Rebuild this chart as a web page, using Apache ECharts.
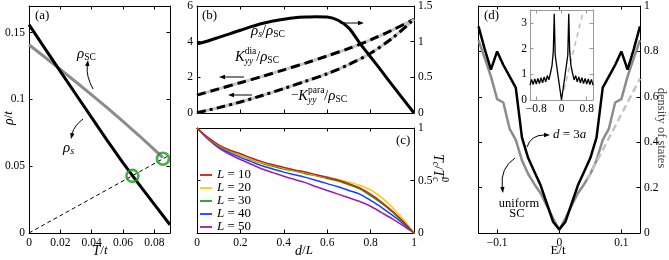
<!DOCTYPE html>
<html>
<head>
<meta charset="utf-8">
<script src="https://cdn.jsdelivr.net/npm/echarts@6.0.0/dist/echarts.min.js"></script>
<style>
html,body{margin:0;padding:0;background:#fff;}
#chart{width:669px;height:260px;}
</style>
</head>
<body>
<div id="chart"></div>
<script>
// ---------------- Panel (a) ----------------
const aTemp   = [0, 0.01, 0.02, 0.03, 0.04, 0.05, 0.06, 0.07, 0.08, 0.09];
const aRhoS   = [0.156, 0.1385, 0.121, 0.1037, 0.0864, 0.0692, 0.0525, 0.0368, 0.0215, 0.0062];
const aTempSC = [0, 0.01, 0.02, 0.03, 0.04, 0.05, 0.06, 0.07, 0.08, 0.0855];
const aRhoSC  = [0.141, 0.1318, 0.1225, 0.1131, 0.1035, 0.0937, 0.0836, 0.0732, 0.0624, 0.0564];
const aLineT   = [0, 0.088];
const aLineRho = [0, 0.0572];
const aCircT   = [0.066, 0.0855];
const aCircRho = [0.0428, 0.0556];
const aXTicks = [0, 0.09, 0.02];
const aYTicks = [0, 0.17, 0.05];

// ---------------- Panel (b) ----------------
const bX20 = [0,0.05,0.1,0.15,0.2,0.25,0.3,0.35,0.4,0.45,0.5,0.55,0.6,0.65,0.7,0.75,0.8,0.85,0.9,0.95,1];
const bRhoRatio = [0.97,1.01,1.06,1.11,1.16,1.21,1.255,1.29,1.315,1.335,1.345,1.35,1.345,1.30,1.19,0.98,0.785,0.59,0.39,0.195,0];
const bX10 = [0,0.1,0.2,0.3,0.4,0.5,0.6,0.7,0.8,0.9,1];
const bKdia  = [1.0,1.35,1.7,2.05,2.42,2.8,3.2,3.62,4.1,4.65,5.25];
const bKpara = [0.02,0.3,0.62,0.98,1.37,1.78,2.2,2.72,3.35,4.2,5.25];

// ---------------- Panel (c) ----------------
const cX = [0,0.05,0.1,0.15,0.2,0.25,0.3,0.35,0.4,0.45,0.5,0.55,0.6,0.65,0.7,0.75,0.8,0.85,0.9,0.95,1];
const cL10 = [1,0.91,0.84,0.79,0.755,0.715,0.68,0.65,0.625,0.60,0.58,0.555,0.53,0.505,0.47,0.43,0.37,0.295,0.21,0.11,0];
const cL20 = [1,0.91,0.835,0.785,0.745,0.705,0.67,0.645,0.62,0.595,0.575,0.55,0.53,0.51,0.485,0.455,0.41,0.34,0.245,0.13,0];
const cL30 = [1,0.905,0.83,0.78,0.74,0.70,0.665,0.635,0.61,0.59,0.565,0.545,0.52,0.495,0.46,0.42,0.355,0.285,0.20,0.105,0];
const cL40 = [1,0.90,0.82,0.765,0.72,0.68,0.64,0.61,0.58,0.555,0.53,0.50,0.47,0.44,0.405,0.37,0.31,0.245,0.17,0.09,0];
const cL50 = [1,0.895,0.81,0.75,0.70,0.655,0.61,0.575,0.54,0.51,0.48,0.44,0.405,0.37,0.335,0.30,0.255,0.195,0.135,0.07,0];
const cNames = ['10','20','30','40','50'];
const cColors = ['#c8201e','#ffc800','#1e9e1e','#1e3cff','#9a1fa6'];

// ---------------- Panel (d) ----------------
const dE = [-0.13,-0.12,-0.11,-0.1,-0.09,-0.08,-0.07,-0.06,-0.05,-0.04,-0.03,-0.02,-0.01,0,0.01,0.02,0.03,0.04,0.05,0.06,0.07,0.08,0.09,0.1,0.11,0.12,0.13];
const dBlack = [0.91,0.81,0.72,0.80,0.74,0.69,0.64,0.42,0.33,0.27,0.21,0.13,0.05,0.015,0.05,0.13,0.21,0.27,0.33,0.42,0.64,0.69,0.74,0.80,0.72,0.81,0.91];
const dGray  = [0.85,0.77,0.69,0.59,0.575,0.46,0.41,0.32,0.26,0.215,0.175,0.12,0.065,0.015,0.065,0.12,0.175,0.215,0.26,0.32,0.41,0.46,0.575,0.59,0.69,0.77,0.85];
const dFitE = [0.045, 0.13];
const dFitV = [0.235, 0.68];
const insE = [-1,-0.95,-0.9,-0.85,-0.8,-0.75,-0.7,-0.65,-0.6,-0.55,-0.5,-0.45,-0.4,-0.35,-0.3,-0.26,-0.23,-0.2,-0.15,-0.1,-0.05,0,0.05,0.1,0.15,0.2,0.23,0.26,0.3,0.35,0.4,0.45,0.5,0.55,0.6,0.65,0.7,0.75,0.8,0.85,0.9,0.95,1];
const insV = [0.58,0.8,0.6,0.82,0.62,0.84,0.64,0.87,0.67,0.9,0.71,0.95,0.78,1.05,1.35,1.9,3.35,1.75,1.3,0.85,0.42,0.0,0.42,0.85,1.3,1.75,3.35,1.9,1.35,1.05,0.78,0.95,0.71,0.9,0.67,0.87,0.64,0.84,0.62,0.82,0.6,0.8,0.58];
const insFitE = [0.08, 0.7];
const insFitV = [0.4, 3.5];

// ---------------- helpers ----------------
const SERIF = '"Liberation Serif","Times New Roman",serif';
const zip = (xs, ys) => xs.map((x, i) => [x, ys[i]]);
const mctx = document.createElement('canvas').getContext('2d');
function fnt(sz, it) { return (it ? 'italic ' : '') + sz + 'px ' + SERIF; }
function math(x, y, parts, o) {
  o = o || {};
  let cx = 0, pend = null, pendW = 0;
  const ch = [];
  for (const p of parts) {
    const [t, sz, it, dy, stack] = p;
    mctx.font = fnt(sz, it);
    const tw = mctx.measureText(t).width;
    const sx = pend !== null ? pend : cx;
    ch.push({type: 'text', x: sx, y: dy || 0, silent: true,
      style: {text: t, font: fnt(sz, it), fill: o.color || '#000',
        align: 'left', verticalAlign: 'middle', textAlign: 'left', textVerticalAlign: 'middle'}});
    if (stack) { pend = sx; pendW = tw; }
    else { cx = sx + Math.max(tw, pend !== null ? pendW : 0); pend = null; }
  }
  const w = cx;
  const off = o.align === 'left' ? 0 : (o.align === 'right' ? -w : -w / 2);
  ch.forEach(c => c.x += off);
  return {type: 'group', x: x, y: y, rotation: o.rot || 0, children: ch, z: 100};
}
function arrow(x1, y1, cx, cy, x2, y2, hl, hw) {
  hl = hl || 6; hw = hw || 2.2;
  const dx = x2 - cx, dy = y2 - cy, L = Math.hypot(dx, dy), ux = dx / L, uy = dy / L;
  const bx = x2 - ux * hl, by = y2 - uy * hl;
  return [
    {type: 'bezierCurve', z: 100, shape: {x1: x1, y1: y1, x2: bx, y2: by, cpx1: cx, cpy1: cy},
      style: {stroke: '#000', lineWidth: 1, fill: null}},
    {type: 'polygon', z: 100, shape: {points: [[x2, y2], [bx - uy * hw, by + ux * hw], [bx + uy * hw, by - ux * hw]]},
      style: {fill: '#000'}}
  ];
}
const fmt = v => (Math.round(v * 1e6) / 1e6).toString().replace('-', '\u2212');
function axis(gridIndex, pos, min, max, interval, labels, ex) {
  ex = ex || {};
  const col = ex.color || '#000';
  const a = {
    type: 'value', gridIndex: gridIndex, position: pos, min: min, max: max,
    axisLine: {show: true, onZero: false, lineStyle: {color: col, width: 1}},
    axisTick: {show: true, inside: true, length: 3.5, lineStyle: {color: col, width: 1}},
    splitLine: {show: false},
    axisLabel: {show: labels, margin: ex.margin != null ? ex.margin : 4, fontFamily: SERIF, fontSize: 11.5,
      color: '#000', formatter: fmt}
  };
  if (interval != null) a.interval = interval;
  if (ex.hideMax) a.axisLabel.showMaxLabel = false;
  if (ex.custom) { a.axisTick.customValues = ex.custom; a.axisLabel.customValues = ex.custom; }
  return a;
}
function line(xi, yi, data, color, width, type, smooth) {
  return {type: 'line', xAxisIndex: xi, yAxisIndex: yi, data: data, showSymbol: false, symbol: 'none',
    smooth: smooth || false, lineStyle: {color: color, width: width, type: type || 'solid', cap: 'butt'},
    animation: false, silent: true};
}

const grids = [
  {left: 29, top: 6, width: 141, height: 227},
  {left: 197, top: 5, width: 217, height: 108},
  {left: 197, top: 128, width: 217, height: 105},
  {left: 478.5, top: 6, width: 161.5, height: 227},
  {left: 530, top: 10, width: 63, height: 90, show: true, backgroundColor: '#fff', borderWidth: 0}
];

const xAxes = [
  axis(0, 'bottom', aXTicks[0], aXTicks[1], aXTicks[2], true, {hideMax: true}),
  axis(0, 'top', aXTicks[0], aXTicks[1], aXTicks[2], false),
  axis(1, 'bottom', 0, 1, 0.2, false),
  axis(1, 'top', 0, 1, 0.2, false),
  axis(2, 'bottom', 0, 1, 0.2, true),
  axis(2, 'top', 0, 1, 0.2, false),
  axis(3, 'bottom', -0.13, 0.13, null, true, {custom: [-0.1, 0, 0.1]}),
  axis(3, 'top', -0.13, 0.13, null, false, {custom: [-0.1, 0, 0.1]}),
  axis(4, 'bottom', -1, 1, null, true, {custom: [-0.8, 0, 0.8], color: '#999', margin: 3}),
  axis(4, 'top', -1, 1, null, false, {custom: [-0.8, 0, 0.8], color: '#999'})
];
const yAxes = [
  axis(0, 'left', aYTicks[0], aYTicks[1], aYTicks[2], true, {hideMax: true}),
  axis(0, 'right', aYTicks[0], aYTicks[1], aYTicks[2], false),
  axis(1, 'left', 0, 6, 2, true, {margin: 4}),
  axis(1, 'right', 0, 1.5, 0.5, true),
  axis(2, 'left', 0, 1, 0.5, false),
  axis(2, 'right', 0, 1, 0.5, true),
  axis(3, 'left', 0, 1, 0.2, false),
  axis(3, 'right', 0, 1, 0.2, true),
  axis(4, 'left', 0, 3.5, 1, true, {hideMax: true, color: '#999', margin: 3}),
  axis(4, 'right', 0, 3.5, 1, false, {color: '#999'})
];

const series = [];
// (a)
series.push(line(0, 0, zip(aTempSC, aRhoSC), '#8c8c8c', 3));
series.push(line(0, 0, zip(aTemp, aRhoS), '#000', 3));
series.push(line(0, 0, zip(aLineT, aLineRho), '#000', 1, [4, 3]));
series.push({type: 'scatter', xAxisIndex: 0, yAxisIndex: 0, data: zip(aCircT, aCircRho), symbol: 'circle',
  symbolSize: 12, animation: false, silent: true, z: 5,
  itemStyle: {color: 'rgba(0,0,0,0)', borderColor: '#1a9a1a', borderWidth: 2.6}});
// (b)
series.push(line(2, 2, zip(bX10, bKdia), '#c4c4c4', 3, 'solid', 0.3));
series.push(line(2, 2, zip(bX10, bKdia), '#000', 3, [9, 5], 0.3));
series.push(line(2, 2, zip(bX10, bKpara), '#c4c4c4', 3, 'solid', 0.3));
series.push(line(2, 2, zip(bX10, bKpara), '#000', 3, [9, 4, 3, 4], 0.3));
series.push(line(2, 3, zip(bX20, bRhoRatio), '#000', 3, 'solid', 0.3));
// (c)
const cSeriesData = [cL10, cL20, cL30, cL40, cL50];
for (let i = 4; i >= 0; i--) series.push(line(4, 5, zip(cX, cSeriesData[i]), cColors[i], 1.5, 'solid', 0.3));
// (d)
series.push(line(6, 7, zip(dE, dGray), '#8c8c8c', 2.5));
series.push(line(6, 7, zip(dFitE, dFitV), '#c4c4c4', 2.5, [7, 4]));
series.push(line(6, 7, zip(dE, dBlack), '#000', 2.5));
// inset
series.push(line(8, 8, zip(insFitE, insFitV), '#bbbbbb', 1.5, [5, 4]));
series.push(line(8, 8, zip(insE, insV), '#000', 1.3));

// ---------------- annotations ----------------
const G = [];
const I = true, R = false;
// (a)
G.push(math(35, 16, [['(a)', 13, R]], {align: 'left'}));
G.push(math(77, 54, [['ρ', 15, I], ['SC', 9.5, R, 3]], {align: 'left'}));
G.push(...arrow(93, 89, 86, 76, 88, 60));
G.push(math(63, 148, [['ρ', 15, I], ['s', 10, I, 3]], {align: 'left'}));
G.push(...arrow(83, 119, 74, 126, 71, 139));
G.push(math(9, 118, [['ρ', 14, I], ['/', 13, R], ['t', 13, I]], {rot: Math.PI / 2}));
G.push(math(100, 251, [['T', 14, I], ['/', 13, R], ['t', 13, I]]));
// (b)
G.push(math(202, 16, [['(b)', 13, R]], {align: 'left'}));
G.push(math(251, 31, [['ρ', 15, I], ['s', 10, I, 3], ['/', 14, R], ['ρ', 15, I], ['SC', 9.5, R, 3]], {align: 'left'}));
G.push(...arrow(340, 23, 352, 23, 364, 23));
G.push(math(235, 57, [['K', 14.5, I], ['dia', 9.5, R, -6, true], ['yy', 9.5, I, 4], ['/', 14, R], ['ρ', 15, I], ['SC', 9.5, R, 3]], {align: 'left'}));
G.push(...arrow(244, 77, 232, 77, 219, 77));
G.push(math(291, 96, [['−', 13, R], ['K', 14.5, I], ['para', 9.5, R, -6, true], ['yy', 9.5, I, 4], ['/', 14, R], ['ρ', 15, I], ['SC', 9.5, R, 3]], {align: 'left'}));
G.push(...arrow(252, 95, 240, 95, 228, 95));
// (c)
G.push(math(396, 141, [['(c)', 13, R]], {align: 'left'}));
const legY = [175, 188, 201, 214, 227];
for (let i = 0; i < 5; i++) {
  G.push({type: 'line', z: 100, shape: {x1: 200, y1: legY[i], x2: 212, y2: legY[i]}, style: {stroke: cColors[i], lineWidth: 1.8}});
  G.push(math(217, legY[i], [['L', 13, I], [' = ' + cNames[i], 13, R]], {align: 'left'}));
}
G.push(math(304, 251, [['d', 14, I], ['/', 13, R], ['L', 13, I]]));
G.push(math(438, 168, [['T', 14, I], ['c', 9.5, I, 3], ['/', 13, R], ['T', 14, I], ['0', 9.5, R, -6, true], ['c', 9.5, I, 3]], {rot: -Math.PI / 2}));
// (d)
G.push(math(484, 16, [['(d)', 13, R]], {align: 'left'}));
G.push(math(553, 135, [['d', 13, I], [' = 3', 13, R], ['a', 13, I]], {align: 'left'}));
G.push(...arrow(527, 147, 531, 135, 550, 135));
G.push(...arrow(515, 158, 500, 168, 503, 193));
G.push(math(519, 204, [['uniform', 12.5, R]]));
G.push(math(517, 214, [['SC', 12.5, R]]));
G.push(math(558, 251, [['E/t', 13, R]]));
G.push(math(661, 128, [['density of states', 12.5, R]], {rot: -Math.PI / 2, color: '#444'}));

const option = {
  animation: false,
  backgroundColor: '#fff',
  grid: grids,
  xAxis: xAxes,
  yAxis: yAxes,
  series: series,
  graphic: {elements: G}
};
const chart = echarts.init(document.getElementById('chart'), null, {renderer: 'canvas'});
chart.setOption(option);
</script>
</body>
</html>
